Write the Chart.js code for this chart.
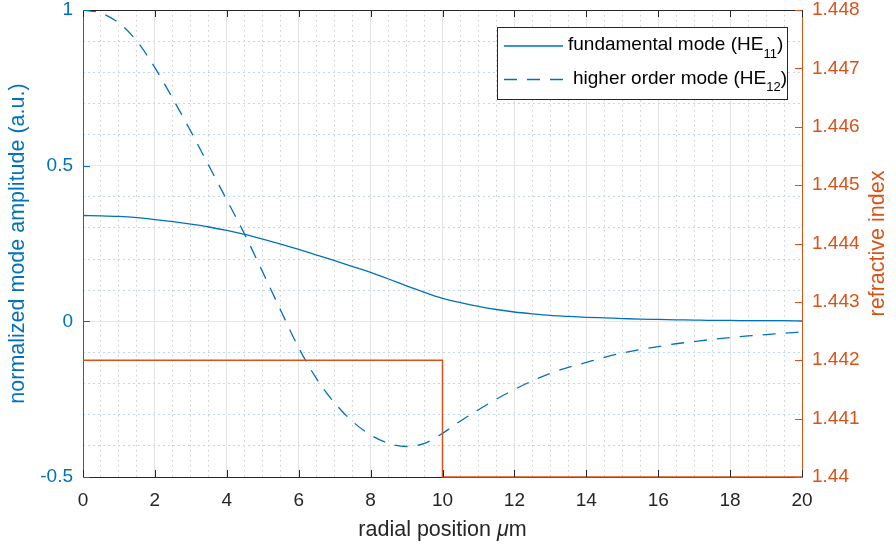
<!DOCTYPE html>
<html>
<head>
<meta charset="utf-8">
<script src="https://cdn.jsdelivr.net/npm/chart.js@4"></script>
<style>
  html, body { margin: 0; padding: 0; background: #fff; }
  #wrap { width: 896px; height: 546px; }
</style>
</head>
<body>
<div id="wrap"><canvas id="modeChart"></canvas></div>
<script>
// radial position (um)
const radial = [0, 0.5, 1, 1.5, 2, 2.5, 3, 3.5, 4, 4.5, 5, 5.5, 6, 6.5, 7, 7.5, 8, 8.5, 9, 9.5,
  10, 10.5, 11, 11.5, 12, 12.5, 13, 13.5, 14, 14.5, 15, 15.5, 16, 16.5, 17, 17.5, 18, 18.5, 19, 19.5, 20];
// fundamental mode HE11
const he11 = [0.340, 0.339, 0.337, 0.333, 0.327, 0.320, 0.312, 0.303, 0.292, 0.279, 0.264, 0.248, 0.231,
  0.213, 0.195, 0.176, 0.157, 0.136, 0.114, 0.093, 0.074, 0.060, 0.048, 0.038, 0.030, 0.024, 0.019,
  0.016, 0.013, 0.011, 0.009, 0.007, 0.006, 0.005, 0.004, 0.003, 0.003, 0.002, 0.002, 0.002, 0.001];
// higher order mode HE12
const he12 = [1.000, 0.990, 0.958, 0.900, 0.815, 0.715, 0.610, 0.500, 0.390, 0.279, 0.158, 0.035, -0.085,
  -0.185, -0.262, -0.322, -0.365, -0.392, -0.402, -0.392, -0.360, -0.320, -0.284, -0.250, -0.219, -0.191,
  -0.167, -0.148, -0.132, -0.116, -0.102, -0.091, -0.081, -0.072, -0.065, -0.058, -0.052, -0.047, -0.043,
  -0.038, -0.034];
// refractive index profile (step)
const indexX = [0, 10, 10, 20];
const indexN = [1.442, 1.442, 1.44, 1.44];

const blue = '#0072BD';
const orange = '#D95319';
const dark = '#262626';
const fontFam = '"Liberation Sans", Arial, Helvetica, sans-serif';
const titleSize = 21.5;

Chart.defaults.font.family = fontFam;
Chart.defaults.font.size = 19;

const pts = (xs, ys) => xs.map((x, i) => ({ x: x, y: ys[i] }));
const fmt = v => String(Number(v.toFixed(3)));
const isMajor = (v, step) => Math.abs(v / step - Math.round(v / step)) < 1e-6;

// frame, inward ticks, legend, titles
const extras = {
  id: 'extras',
  afterDatasetsDraw(chart) {
    const { ctx, chartArea: a, scales } = chart;
    ctx.save();
    ctx.lineWidth = 1;
    // top border
    ctx.strokeStyle = dark;
    ctx.beginPath();
    ctx.moveTo(a.left, a.top + 0.5);
    ctx.lineTo(a.right, a.top + 0.5);
    ctx.stroke();
    // x ticks (bottom and top, inward)
    scales.x.ticks.forEach(t => {
      const px = Math.round(scales.x.getPixelForValue(t.value)) + 0.5;
      ctx.beginPath();
      ctx.moveTo(px, a.bottom); ctx.lineTo(px, a.bottom - 7);
      ctx.moveTo(px, a.top); ctx.lineTo(px, a.top + 7);
      ctx.stroke();
    });
    // left ticks
    ctx.strokeStyle = blue;
    scales.y.ticks.forEach(t => {
      const py = Math.round(scales.y.getPixelForValue(t.value)) + 0.5;
      ctx.beginPath();
      ctx.moveTo(a.left, py); ctx.lineTo(a.left + 7, py);
      ctx.stroke();
    });
    // right ticks
    ctx.strokeStyle = orange;
    scales.y2.ticks.forEach(t => {
      const py = Math.round(scales.y2.getPixelForValue(t.value)) + 0.5;
      ctx.beginPath();
      ctx.moveTo(a.right, py); ctx.lineTo(a.right - 7, py);
      ctx.stroke();
    });

    // legend
    ctx.fillStyle = '#fff';
    ctx.fillRect(497, 27, 290, 72);
    ctx.strokeStyle = dark;
    ctx.strokeRect(497.5, 27.5, 290, 72);
    ctx.strokeStyle = blue;
    ctx.lineWidth = 1.3;
    ctx.beginPath(); ctx.moveTo(504, 46); ctx.lineTo(563, 46); ctx.stroke();
    ctx.setLineDash([13, 10]);
    ctx.beginPath(); ctx.moveTo(504, 79.5); ctx.lineTo(563, 79.5); ctx.stroke();
    ctx.setLineDash([]);
    const entry = (x, y, main, sub) => {
      ctx.fillStyle = '#000';
      ctx.textBaseline = 'alphabetic';
      ctx.textAlign = 'left';
      ctx.font = '19px ' + fontFam;
      ctx.fillText(main, x, y);
      let w = ctx.measureText(main).width;
      ctx.font = '13px ' + fontFam;
      ctx.fillText(sub, x + w, y + 7.5);
      w += ctx.measureText(sub).width;
      ctx.font = '19px ' + fontFam;
      ctx.fillText(')', x + w, y);
    };
    entry(568, 50, 'fundamental mode (HE', '11');
    entry(573, 83.5, 'higher order mode (HE', '12');

    // x axis title with italic mu
    ctx.fillStyle = dark;
    ctx.textAlign = 'left';
    ctx.textBaseline = 'alphabetic';
    const nf = titleSize + 'px ' + fontFam;
    const itf = 'italic ' + titleSize + 'px ' + fontFam;
    ctx.font = nf;
    const p1 = 'radial position ';
    const w1 = ctx.measureText(p1).width;
    const wm = ctx.measureText('m').width;
    ctx.font = itf;
    const wmu = ctx.measureText('\u03bc').width;
    const start = (a.left + a.right) / 2 - (w1 + wmu + wm) / 2;
    ctx.font = nf;
    ctx.fillText(p1, start, 536);
    ctx.font = itf;
    ctx.fillText('\u03bc', start + w1, 536);
    ctx.font = nf;
    ctx.fillText('m', start + w1 + wmu, 536);

    // right axis title (reads bottom to top)
    ctx.save();
    ctx.translate(878, (a.top + a.bottom) / 2);
    ctx.rotate(-Math.PI / 2);
    ctx.textAlign = 'center';
    ctx.textBaseline = 'middle';
    ctx.fillStyle = orange;
    ctx.font = nf;
    ctx.fillText('refractive index', 0, 0);
    ctx.restore();

    ctx.restore();
  }
};

// keep the plot box at the same place as the original figure
const fixPad = s => { s.paddingTop = 10; s.paddingBottom = 10; };

const ctx1 = document.getElementById('modeChart').getContext('2d');
const modeChart = new Chart(ctx1, {
  type: 'line',
  data: {
    datasets: [
      {
        label: 'refractive index',
        data: pts(indexX, indexN),
        yAxisID: 'y2',
        borderColor: orange,
        borderWidth: 1.5,
        pointRadius: 0,
        tension: 0,
        clip: false
      },
      {
        label: 'higher order mode (HE12)',
        data: pts(radial, he12),
        yAxisID: 'y',
        borderColor: blue,
        borderWidth: 1.3,
        borderDash: [13, 10],
        pointRadius: 0,
        cubicInterpolationMode: 'monotone'
      },
      {
        label: 'fundamental mode (HE11)',
        data: pts(radial, he11),
        yAxisID: 'y',
        borderColor: blue,
        borderWidth: 1.3,
        pointRadius: 0,
        cubicInterpolationMode: 'monotone'
      }
    ]
  },
  options: {
    responsive: true,
    maintainAspectRatio: false,
    animation: false,
    layout: { padding: { top: 10, left: 0, right: 0, bottom: 0 } },
    plugins: {
      legend: { display: false },
      tooltip: { enabled: false }
    },
    scales: {
      x: {
        type: 'linear',
        position: 'bottom',
        min: 0, max: 20,
        ticks: { stepSize: 2, color: dark, padding: 12, maxRotation: 0 },
        grid: { color: '#e3e3e3', lineWidth: 1, drawTicks: false },
        border: { color: dark, width: 1 },
        afterFit: s => { s.height = 69; }
      },
      xMinor: {
        type: 'linear',
        position: 'bottom',
        min: 0, max: 20,
        ticks: { stepSize: 0.5, display: false },
        grid: {
          drawTicks: false,
          color: c => isMajor(c.tick.value, 2) ? 'rgba(0,0,0,0)' : '#cdcdcd'
        },
        border: { display: false, dash: [1.5, 3.5] },
        afterFit: s => { s.height = 0; }
      },
      y: {
        type: 'linear',
        position: 'left',
        min: -0.5, max: 1,
        ticks: { stepSize: 0.5, color: blue, padding: 10, callback: v => fmt(v) },
        grid: { color: '#dceaf4', lineWidth: 1, drawTicks: false },
        border: { color: blue, width: 1 },
        title: {
          display: true,
          text: 'normalized mode amplitude (a.u.)',
          color: blue,
          font: { size: titleSize },
          padding: { top: 5, bottom: 0 }
        },
        afterFit: s => { s.width = 83; fixPad(s); }
      },
      yMinor: {
        type: 'linear',
        position: 'left',
        min: -0.5, max: 1,
        ticks: { stepSize: 0.1, display: false },
        grid: {
          drawTicks: false,
          color: c => isMajor(c.tick.value, 0.5) ? 'rgba(0,0,0,0)' : '#bcd9ed'
        },
        border: { display: false, dash: [2, 3] },
        afterFit: s => { s.width = 0; fixPad(s); }
      },
      y2: {
        type: 'linear',
        position: 'right',
        min: 1.44, max: 1.448,
        ticks: { stepSize: 0.001, color: orange, padding: 10, callback: v => fmt(v) },
        grid: { drawOnChartArea: false, drawTicks: false },
        border: { color: orange, width: 1 },
        afterFit: s => { s.width = 94; fixPad(s); }
      }
    }
  },
  plugins: [extras]
});
</script>
</body>
</html>
